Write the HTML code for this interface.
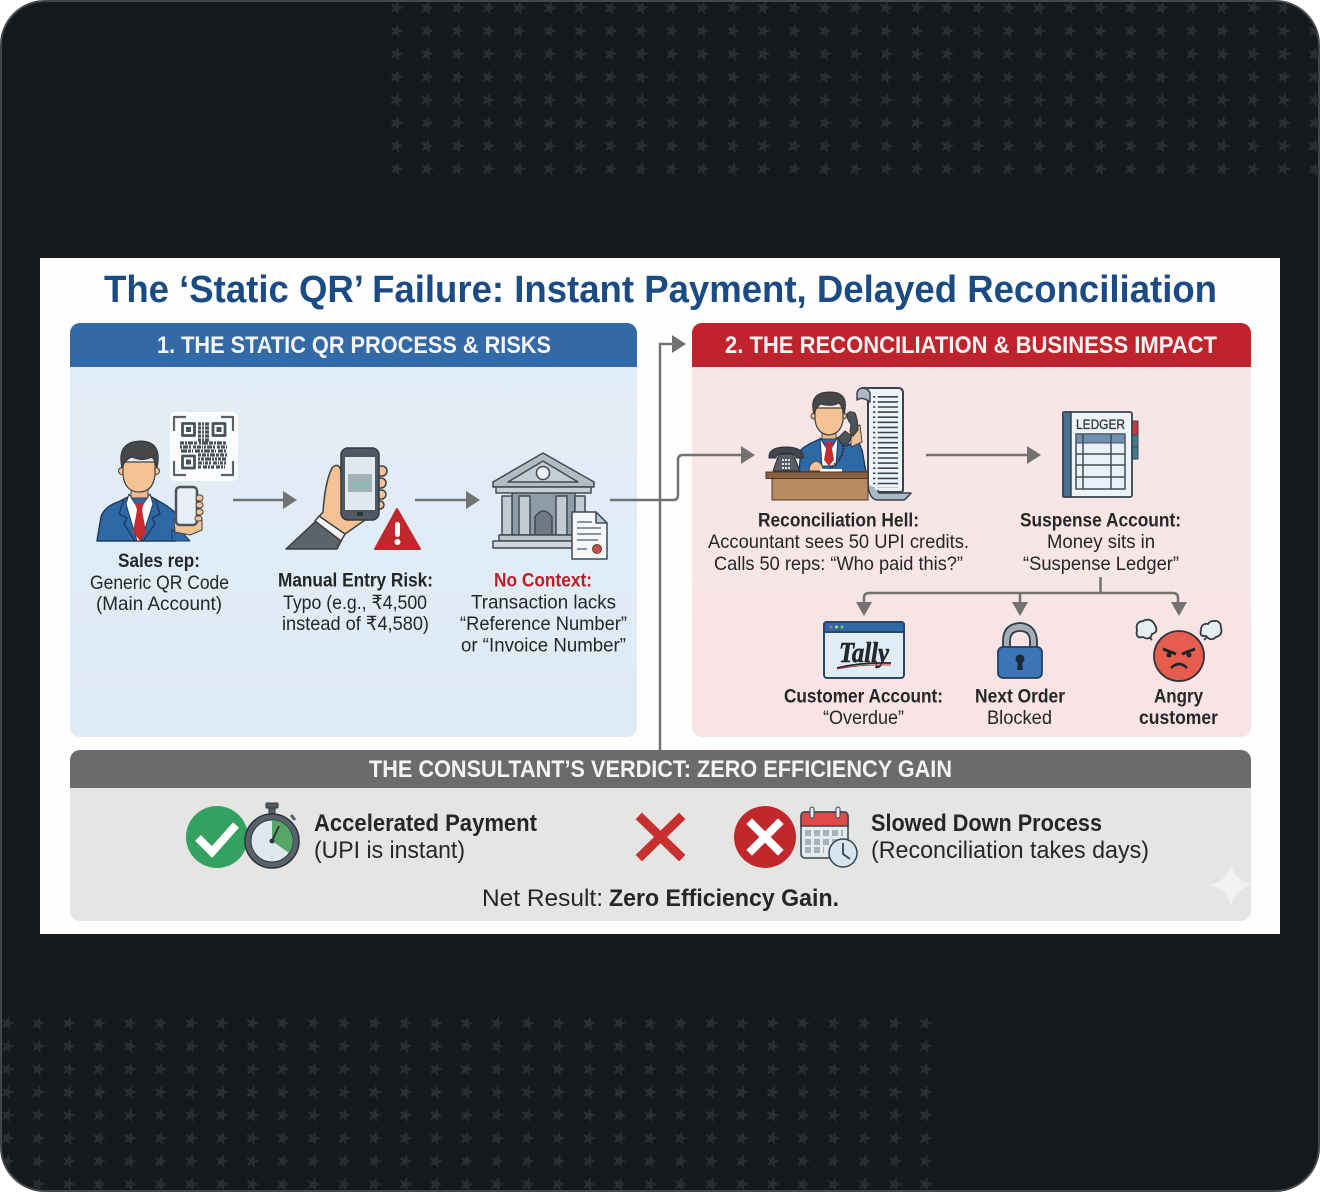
<!DOCTYPE html>
<html><head><meta charset="utf-8"><style>
html,body{margin:0;padding:0;background:#fff}
svg{display:block}
text{font-family:"Liberation Sans",sans-serif;fill:#242628;font-size:19.5px}
.b{font-weight:700}
.h{font-weight:700;fill:#f4f4f4;font-size:24px}
.l{font-size:24.5px}
</style></head><body>
<svg width="1320" height="1192" viewBox="0 0 1320 1192" xmlns="http://www.w3.org/2000/svg">
<defs>
<pattern id="st" x="381" y="0" width="30.6" height="23" patternUnits="userSpaceOnUse">
<polygon points="22.500,7.700 17.500,9.700 18.300,15 14.600,11 9.700,12.800 12.300,8 9.300,4 14.400,5.300 17,0.800 17.800,6" fill="#2a2d31"/>
</pattern>
<pattern id="st2" x="-8" y="1015.300" width="30.6" height="23" patternUnits="userSpaceOnUse">
<polygon points="22.500,7.700 17.500,9.700 18.300,15 14.600,11 9.700,12.800 12.300,8 9.300,4 14.400,5.300 17,0.800 17.800,6" fill="#2a2d31"/>
</pattern>
<linearGradient id="pb" x1="0" y1="0" x2="0" y2="1"><stop offset="0" stop-color="#e3eef7"/><stop offset="1" stop-color="#deeaf5"/></linearGradient>
<linearGradient id="pr" x1="0" y1="0" x2="0" y2="1"><stop offset="0" stop-color="#f8e6e6"/><stop offset="1" stop-color="#f8e4e4"/></linearGradient>
<clipPath id="p1"><rect x="70" y="323" width="567" height="414" rx="10"/></clipPath>
<clipPath id="p2"><rect x="692" y="323" width="559" height="414" rx="10"/></clipPath>
<clipPath id="p3"><rect x="70" y="750" width="1181" height="171" rx="10"/></clipPath>
<clipPath id="bgc"><rect x="1" y="1" width="1318" height="1190" rx="44"/></clipPath>
</defs>

<!-- background -->
<rect width="1320" height="1192" fill="#fff"/>
<rect x="1" y="1" width="1318" height="1190" rx="44" fill="#16191c" stroke="#45474a" stroke-width="2"/>
<g clip-path="url(#bgc)">
<rect x="386" y="0" width="934" height="177" fill="url(#st)"/>
<rect x="0" y="1015" width="934" height="177" fill="url(#st2)"/>
</g>

<!-- card -->
<rect x="40" y="258" width="1240" height="676" fill="#fefefe"/>
<text x="104" y="302" class="b" style="font-size:38px;fill:#1a4b84" textLength="1113" lengthAdjust="spacingAndGlyphs">The ‘Static QR’ Failure: Instant Payment, Delayed Reconciliation</text>

<!-- panel 1 -->
<g clip-path="url(#p1)">
<rect x="70" y="323" width="567" height="414" fill="url(#pb)"/>
<rect x="70" y="323" width="567" height="44" fill="#3269a6"/>
</g>
<text x="157" y="353" class="h" textLength="394" lengthAdjust="spacingAndGlyphs">1. THE STATIC QR PROCESS &amp; RISKS</text>

<!-- panel 2 -->
<g clip-path="url(#p2)">
<rect x="692" y="323" width="559" height="414" fill="url(#pr)"/>
<rect x="692" y="323" width="559" height="44" fill="#c0232c"/>
</g>
<text x="725" y="353" class="h" textLength="492" lengthAdjust="spacingAndGlyphs">2. THE RECONCILIATION &amp; BUSINESS IMPACT</text>

<!-- panel 3 -->
<g clip-path="url(#p3)">
<rect x="70" y="750" width="1181" height="171" fill="#e5e5e4"/>
<rect x="70" y="750" width="1181" height="38" fill="#6b6b6b"/>
<path d="M1231 863Q1234 881 1253 885Q1234 889 1231 907Q1228 889 1209 885Q1228 881 1231 863Z" fill="#f1f1f0"/>
</g>
<text x="369" y="777" class="h" textLength="583" lengthAdjust="spacingAndGlyphs">THE CONSULTANT’S VERDICT: ZERO EFFICIENCY GAIN</text>

<!-- connectors -->
<g fill="none" stroke="#727272" stroke-width="2.500">
<path d="M233 500H286"/>
<path d="M415 500H470"/>
<path d="M660 750V344H676"/>
<path d="M610 500H673Q678 500 678 495V460Q678 455 683 455H744"/>
<path d="M926 455H1030"/>
<path d="M1100.500 577V593"/>
<path d="M864 603V598Q864 593 869 593H1173Q1178 593 1178 598V603"/>
<path d="M1020 593V603"/>
</g>
<g fill="#727272">
<path d="M283 491L297 500L283 509Z"/>
<path d="M466 491L480 500L466 509Z"/>
<path d="M672 335L686 344L672 353Z"/>
<path d="M741 446L755 455L741 464Z"/>
<path d="M1027 446L1041 455L1027 464Z"/>
<path d="M856 602H872L864 616Z"/>
<path d="M1012 602H1028L1020 616Z"/>
<path d="M1171 602H1187L1179 616Z"/>
</g>

<!-- sales rep -->
<g stroke-linejoin="round">
<rect x="170" y="412" width="68" height="69" rx="6" fill="#fbfcfd"/>
<path d="M186 417H174V431M221 417H233V431M174 461V475H186M233 461V475H221" fill="none" stroke="#59626b" stroke-width="2.200"/>
<g fill="none" stroke="#4a5259" stroke-width="2.800">
<rect x="182.500" y="423.500" width="12" height="12"/><rect x="213" y="423.500" width="12" height="12"/><rect x="182.500" y="456" width="12" height="12"/>
</g>
<g fill="#4a5259"><rect x="186" y="427" width="5" height="5"/><rect x="216.500" y="427" width="5" height="5"/><rect x="186" y="459.500" width="5" height="5"/></g>
<g fill="none" stroke="#4a5259" stroke-width="3.200">
<path d="M198 424H210M198 428H210M198 432H210M198 436H210M198 440H210" stroke-dasharray="3 1 2 1 4 1"/>
<path d="M180 443H227" stroke-dasharray="4 1 2 1 5 1 3 2 2 1 6 1"/>
<path d="M180 447H227" stroke-dasharray="2 1 5 1 2 2 3 1 4 1 1 1"/>
<path d="M181 451H227" stroke-dasharray="6 1 3 1 1 2 5 1 2 1"/>
<path d="M198 455H227" stroke-dasharray="3 1 4 1 2 1 5 1"/>
<path d="M198 459H226" stroke-dasharray="2 1 3 1 6 1 2 1"/>
<path d="M198 463H226" stroke-dasharray="4 1 1 1 3 1 2 2"/>
<path d="M198 467H225" stroke-dasharray="3 2 4 1 2 1"/>
</g>
<path d="M97 541L101 517Q104 507 118 502L132 495H148L162 503Q171 508 176 514V541Z" fill="#2f69a5" stroke="#1e3c60" stroke-width="1.500"/>
<path d="M172 541V530L183 533L190 541Z" fill="#2f69a5" stroke="#1e3c60"/>
<path d="M129 494L139 510L150 494L153 504L141 541H137L126 504Z" fill="#fff" stroke="#1e3c60" stroke-width="1"/>
<path d="M135 503H144L142 510L146 532L140 541L133 532L137 510Z" fill="#c62930"/>
<path d="M124 499L119 514L127 518L124 524L135 541M155 499L160 514L152 518L155 524L143 541" stroke="#1e3c60" stroke-width="1.500" fill="none"/>
<rect x="131" y="484" width="17" height="14" fill="#f0b98c" stroke="#3f4347"/>
<circle cx="122" cy="471" r="3.500" fill="#f5c295" stroke="#3f4347"/>
<circle cx="156" cy="471" r="3.500" fill="#f5c295" stroke="#3f4347"/>
<path d="M123 462V475Q125 492 139 492Q153 492 155 475V462Z" fill="#f5c295" stroke="#3f4347" stroke-width="1.200"/>
<path d="M122 468Q116 442 140 441Q163 441 157 468Q155 461 152 457Q143 462 132 457Q125 459 122 468Z" fill="#454749" stroke="#333" stroke-width="1"/>
<path d="M174 519L181 516L202 520V530L190 535L175 532Z" fill="#f5c295" stroke="#3f4347"/>
<rect x="176" y="487" width="21" height="38" rx="4" fill="#e8eef4" stroke="#4a5560" stroke-width="2.500"/>
<g fill="#f5c295" stroke="#3f4347" stroke-width="1"><rect x="196" y="495" width="7" height="6" rx="3"/><rect x="196" y="502" width="7" height="6" rx="3"/><rect x="196" y="509" width="7" height="6" rx="3"/><rect x="195" y="516" width="7" height="5" rx="2.500"/></g>
</g>

<!-- hand + phone -->
<g stroke-linejoin="round">
<path d="M317 519L323 512Q325 482 332 468Q338 462 341 470L342 500L365 520L345 534Z" fill="#f5c295" stroke="#3a3f44" stroke-width="1.500"/>
<g fill="#f5c295" stroke="#3a3f44" stroke-width="1.500"><rect x="374" y="466" width="13" height="10" rx="5"/><rect x="374" y="478" width="12" height="10" rx="5"/><rect x="374" y="490" width="12" height="9" rx="4.500"/><rect x="374" y="501" width="10" height="8" rx="4"/></g>
<path d="M286 549L316 521L341 541L337 549Z" fill="#5c646b" stroke="#3a3f44" stroke-width="1.500"/>
<path d="M319 516L345 534L341 541L315 521Z" fill="#f3f3f3" stroke="#3a3f44" stroke-width="1.500"/>
<rect x="341" y="448" width="38" height="72" rx="7" fill="#4e5964" stroke="#333a42" stroke-width="1.500"/>
<rect x="345" y="457" width="30" height="53" fill="#e0eaee"/>
<rect x="348" y="474" width="24" height="18" rx="2" fill="#9fb0b8"/>
<path d="M351 482H369M351 486H369" stroke="#7cc0ac" stroke-width="1.500"/>
<rect x="357" y="512" width="6" height="4" rx="1" fill="#2b3138"/>
<path d="M397 509L420 549H375Z" fill="#c1272d" stroke="#c1272d" stroke-width="2"/>
<rect x="395" y="522" width="5" height="15" rx="2.500" fill="#fff"/>
<circle cx="397.500" cy="542" r="3" fill="#fff"/>
</g>

<!-- bank -->
<g stroke="#3f4a55" stroke-width="1.500" stroke-linejoin="round">
<rect x="512" y="492" width="63" height="43" fill="#8f9ba6"/>
<path d="M543 453L594 482V487H493V482Z" fill="#b2bcc5"/>
<path d="M543 461L578 482H508Z" fill="#c5ccd3"/>
<circle cx="543" cy="473" r="6.500" fill="#eef2f5"/>
<rect x="496" y="487" width="95" height="6" fill="#c7ced5"/>
<g fill="#c3ccd3"><rect x="502" y="496" width="10" height="39"/><rect x="519" y="496" width="11" height="39"/><rect x="556" y="496" width="11" height="39"/><rect x="575" y="496" width="10" height="39"/></g>
<path d="M535 535V517Q543 505 552 517V535Z" fill="#6e7984"/>
<rect x="499" y="535" width="89" height="6" fill="#bcc5cc"/>
<rect x="493" y="541" width="98" height="7" fill="#d1d7dd"/>
<path d="M572 512H596L607 523V559H572Z" fill="#f5f7f9"/>
<path d="M596 512V523H607Z" fill="#bfc9d2"/>
</g>
<path d="M577 522H592M577 528H601M577 534H601M577 540H598M577 549H587" stroke="#6b7782" stroke-width="1.500"/>
<circle cx="597" cy="549" r="4.500" fill="#c9524a" stroke="#6b3a38"/>

<!-- accountant -->
<g stroke-linejoin="round">
<path d="M868 392Q868 388 862 388H898Q903 388 903 393V490Q903 492 900 492H880L871 492Q868 490 868 485Z" fill="#edf3f7" stroke="#37434f" stroke-width="2"/>
<path d="M870 402V393Q868 388 862 388Q857 389 857 394V400Q862 396 870 402Z" fill="#a9b8c4" stroke="#37434f" stroke-width="1.500"/>
<path d="M868 484Q869 500 878 500H904Q907 498 911 493H882Q878 494 878 490" fill="#a9b8c4" stroke="#37434f" stroke-width="1.500"/>
<path d="M885.500 396V488" stroke="#37434f" stroke-width="25" stroke-dasharray="1.600 3.500" fill="none"/>
<path d="M876.500 392V490" stroke="#edf3f7" stroke-width="2.500" fill="none"/>
<path d="M799 472L801 450Q804 446 820 439L838 438L846 446L858 441L862 450L866 472Z" fill="#2f69a5" stroke="#1e3c60" stroke-width="1.500"/>
<path d="M820 438L829 452L838 437L836 466H822Z" fill="#fff" stroke="#1e3c60"/>
<path d="M825 442H833L832 449L834 460L829 466L824 460L826 449Z" fill="#c62930"/>
<rect x="822" y="428" width="14" height="11" fill="#f0b98c" stroke="#3f4347"/>
<circle cx="814" cy="416" r="3" fill="#f5c295" stroke="#3f4347"/>
<circle cx="843.500" cy="416" r="3" fill="#f5c295" stroke="#3f4347"/>
<path d="M815 408V420Q817 434 829 435Q841 434 843 420V408Z" fill="#f5c295" stroke="#3f4347" stroke-width="1.200"/>
<path d="M814 414Q808 392 830 392Q850 392 844 414Q842 406 839 403Q831 407 821 404Q816 407 814 414Z" fill="#454749" stroke="#333"/>
<path d="M851 428L860 425L862 442L851 447Z" fill="#f5c295" stroke="#3f4347"/>
<path d="M847 414Q850 410 855 413Q858 420 858 430L853 436L850 432L851 424Q847 420 847 414Z" fill="#4d5359" stroke="#333"/>
<path d="M838 438L845 431L852 436L848 444L841 444Z" fill="#4d5359" stroke="#333"/>
<path d="M843 445Q845 458 830 468" fill="none" stroke="#25384e" stroke-width="2.500" stroke-dasharray="2 1"/>
<path d="M809 471Q809 463 816 461Q822 462 824 471Z" fill="#f5c295" stroke="#3f4347"/>
<rect x="820" y="469" width="22" height="3" fill="#fff"/>
<path d="M772 478H868V500H772Z" fill="#b98a5e" stroke="#4a3a2e"/>
<rect x="766" y="472" width="102" height="6.500" fill="#8a5f3e" stroke="#4a3a2e"/>
<path d="M769 458Q768 447 786 447Q804 447 803 458L796 458Q796 453 786 453Q776 453 776 458Z" fill="#40464d" stroke="#2a2f35"/>
<path d="M773 471L779 454H793L800 471Z" fill="#565d64" stroke="#2a2f35"/>
<path d="M782 460H791M782 464H791M782 468H791" stroke="#d8dde0" stroke-width="2" stroke-dasharray="2 1"/>
</g>

<!-- ledger -->
<g stroke-linejoin="round">
<rect x="1131" y="421" width="7" height="14" fill="#c4383a" stroke="#3b4450"/>
<rect x="1131" y="435" width="7" height="12" fill="#3e7c8a" stroke="#3b4450"/>
<rect x="1131" y="447" width="7" height="12" fill="#3e7c8a" stroke="#3b4450"/>
<rect x="1063" y="412" width="69" height="85" rx="2" fill="#eef3f7" stroke="#36434f" stroke-width="1.800"/>
<rect x="1063" y="412" width="8" height="85" fill="#4b7192" stroke="#36434f" stroke-width="1.500"/>
<rect x="1076" y="434" width="49" height="55" fill="#e9f1f6" stroke="#3f4d5a" stroke-width="1.500"/>
<rect x="1076" y="434" width="49" height="9" fill="#6f8fac" stroke="#3f4d5a"/>
<path d="M1076 454H1125M1076 465H1125M1076 477H1125M1083 434V489M1111 434V489" stroke="#3f4d5a" stroke-width="1.500" fill="none"/>
</g>
<text x="1076" y="429" style="font-size:13.500px;font-weight:400;fill:#2e3a47;stroke:#2e3a47;stroke-width:.3px" textLength="49" lengthAdjust="spacingAndGlyphs">LEDGER</text>

<!-- tally -->
<g stroke-linejoin="round">
<rect x="824" y="622" width="80" height="56" rx="3" fill="#e0edf7" stroke="#264a6d" stroke-width="2"/>
<path d="M824 632V625Q824 622 827 622H901Q904 622 904 625V632Z" fill="#2f69a5" stroke="#264a6d" stroke-width="2"/>
<circle cx="831" cy="627" r="1.500" fill="#d8626a"/><circle cx="836.500" cy="627" r="1.500" fill="#d9c95f"/><circle cx="842" cy="627" r="1.500" fill="#7ac66d"/>
</g>
<text x="839" y="662" style="font-family:'Liberation Serif',serif;font-weight:700;font-style:italic;font-size:28px;fill:#24272b;stroke:#24272b;stroke-width:.6px" textLength="50" lengthAdjust="spacingAndGlyphs">Tally</text>
<path d="M837 668Q862 662 891 663" stroke="#24272b" stroke-width="1.800" fill="none"/>
<path d="M837 669Q862 664 891 665" stroke="#c74045" stroke-width="1" fill="none"/>

<!-- lock -->
<g stroke-linejoin="round">
<path d="M1003 648V641Q1003 624 1020 623Q1036 624 1037 641V648H1030V641Q1030 631 1020 631Q1010 631 1010 641V648Z" fill="#a6adb4" stroke="#2f3c49" stroke-width="1.800"/>
<rect x="998" y="647" width="44" height="31" rx="5" fill="#3a75b5" stroke="#24415e" stroke-width="1.800"/>
<circle cx="1020" cy="659" r="4.500" fill="#1c2a38"/>
<path d="M1018 661H1022L1023 670H1017Z" fill="#1c2a38"/>
</g>

<!-- angry -->
<g fill="#e7eef2" stroke="#333a40" stroke-width="1.800">
<path d="M1152 640L1147 634" fill="none"/>
<path d="M1204 640L1210 634" fill="none"/>
<path d="M1143 621Q1151 617 1155 625Q1159 632 1152 634Q1150 641 1143 637Q1135 639 1137 630Q1135 622 1143 621Z"/>
<path d="M1213 621Q1221 620 1221 628Q1223 635 1216 637Q1211 642 1206 636Q1199 637 1201 630Q1201 623 1208 624Q1210 621 1213 621Z"/>
</g>
<circle cx="1179" cy="656" r="25" fill="#e65c4f" stroke="#2f3338" stroke-width="1.800"/>
<path d="M1163 649L1176 654M1195 649L1182 654" stroke="#1f2226" stroke-width="3" fill="none"/>
<circle cx="1169" cy="655" r="2.500" fill="#1f2226"/><circle cx="1189" cy="655" r="2.500" fill="#1f2226"/>
<path d="M1171 668Q1179 660 1187 668" stroke="#1f2226" stroke-width="2.500" fill="none"/>

<!-- verdict icons -->
<circle cx="217" cy="837" r="31" fill="#35a161"/>
<path d="M198 838L212 852L236 825" fill="none" stroke="#fff" stroke-width="8"/>
<g stroke-linejoin="round">
<rect x="266" y="803" width="12" height="5" rx="1" fill="#555d65" stroke="#2c343c"/>
<rect x="269" y="808" width="6" height="6" fill="#555d65" stroke="#2c343c"/>
<path d="M291 815L295 820" stroke="#555d65" stroke-width="3"/>
<circle cx="272" cy="841" r="27" fill="#59626b" stroke="#2c343c" stroke-width="1.500"/>
<circle cx="272" cy="841" r="21" fill="#dfe8ef" stroke="#2c343c"/>
<path d="M272 841V820A21 21 0 0 1 289 853Z" fill="#56a767"/>
<path d="M272 841L279 826" stroke="#2c343c" stroke-width="2"/>
<circle cx="272" cy="841" r="2.500" fill="#2c343c"/>
</g>
<path d="M642 819L679 855M679 819L642 855" stroke="#c8302f" stroke-width="9" stroke-linecap="square"/>
<circle cx="765" cy="837" r="31" fill="#c0282d"/>
<path d="M752 824L778 850M778 824L752 850" stroke="#fff" stroke-width="8" stroke-linecap="square"/>
<g stroke-linejoin="round">
<rect x="801" y="812" width="47" height="46" rx="4" fill="#e3eaf0" stroke="#39444f" stroke-width="1.500"/>
<path d="M801 826V816Q801 812 805 812H844Q848 812 848 816V826Z" fill="#df4a49" stroke="#39444f" stroke-width="1.500"/>
<rect x="810" y="807" width="4" height="11" rx="2" fill="#e3eaf0" stroke="#39444f"/>
<rect x="836" y="807" width="4" height="11" rx="2" fill="#e3eaf0" stroke="#39444f"/>
<path d="M805 833H843M805 842H838M805 850H824" stroke="#a6b1bb" stroke-width="6" stroke-dasharray="6 3"/>
<circle cx="843" cy="853" r="14" fill="#d6e5f0" stroke="#39444f" stroke-width="1.500"/>
<path d="M843 843V854L850 859" stroke="#39444f" stroke-width="1.800" fill="none"/>
</g>

<!-- labels -->
<text x="118" y="567" class="b" textLength="82" lengthAdjust="spacingAndGlyphs">Sales rep:</text>
<text x="90" y="589" textLength="139" lengthAdjust="spacingAndGlyphs">Generic QR Code</text>
<text x="96" y="610" textLength="126" lengthAdjust="spacingAndGlyphs">(Main Account)</text>
<text x="278" y="586.500" class="b" textLength="155" lengthAdjust="spacingAndGlyphs">Manual Entry Risk:</text>
<text x="283" y="609" textLength="144" lengthAdjust="spacingAndGlyphs">Typo (e.g., ₹4,500</text>
<text x="282" y="630" textLength="147" lengthAdjust="spacingAndGlyphs">instead of ₹4,580)</text>
<text x="494" y="586.500" class="b" style="fill:#bb2027" textLength="98" lengthAdjust="spacingAndGlyphs">No Context:</text>
<text x="471" y="608.500" textLength="145" lengthAdjust="spacingAndGlyphs">Transaction lacks</text>
<text x="460" y="630" textLength="167" lengthAdjust="spacingAndGlyphs">“Reference Number”</text>
<text x="461" y="651.500" textLength="165" lengthAdjust="spacingAndGlyphs">or “Invoice Number”</text>

<text x="758" y="526.500" class="b" textLength="161" lengthAdjust="spacingAndGlyphs">Reconciliation Hell:</text>
<text x="708" y="548" textLength="261" lengthAdjust="spacingAndGlyphs">Accountant sees 50 UPI credits.</text>
<text x="714" y="570" textLength="249" lengthAdjust="spacingAndGlyphs">Calls 50 reps: “Who paid this?”</text>
<text x="1020" y="526.500" class="b" textLength="161" lengthAdjust="spacingAndGlyphs">Suspense Account:</text>
<text x="1047" y="548" textLength="108" lengthAdjust="spacingAndGlyphs">Money sits in</text>
<text x="1023" y="570" textLength="156" lengthAdjust="spacingAndGlyphs">“Suspense Ledger”</text>

<text x="784" y="702.500" class="b" textLength="159" lengthAdjust="spacingAndGlyphs">Customer Account:</text>
<text x="823" y="724" textLength="81" lengthAdjust="spacingAndGlyphs">“Overdue”</text>
<text x="975" y="702.500" class="b" textLength="90" lengthAdjust="spacingAndGlyphs">Next Order</text>
<text x="987" y="724" textLength="65" lengthAdjust="spacingAndGlyphs">Blocked</text>
<text x="1154" y="702.500" class="b" textLength="49" lengthAdjust="spacingAndGlyphs">Angry</text>
<text x="1139" y="724" class="b" textLength="79" lengthAdjust="spacingAndGlyphs">customer</text>

<text x="314" y="831" class="b l" textLength="223" lengthAdjust="spacingAndGlyphs">Accelerated Payment</text>
<text x="314" y="858" class="l" textLength="151" lengthAdjust="spacingAndGlyphs">(UPI is instant)</text>
<text x="871" y="831" class="b l" textLength="231" lengthAdjust="spacingAndGlyphs">Slowed Down Process</text>
<text x="871" y="858" class="l" textLength="278" lengthAdjust="spacingAndGlyphs">(Reconciliation takes days)</text>
<text x="482" y="906" class="l" textLength="121" lengthAdjust="spacingAndGlyphs">Net Result:</text>
<text x="609" y="906" class="b l" textLength="230" lengthAdjust="spacingAndGlyphs">Zero Efficiency Gain.</text>
</svg>
</body></html>
